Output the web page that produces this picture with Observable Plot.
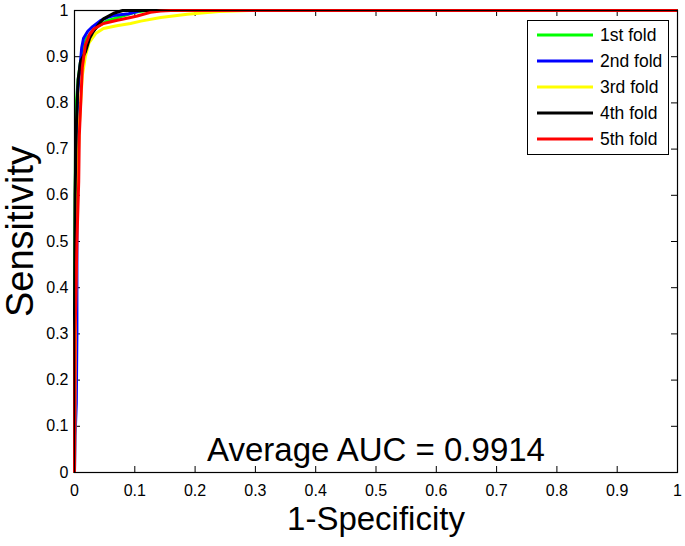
<!DOCTYPE html>
<html>
<head>
<meta charset="utf-8">
<script src="https://cdn.jsdelivr.net/npm/d3@7"></script>
<script src="https://cdn.jsdelivr.net/npm/@observablehq/plot@0.6"></script>
<style>
  html, body { margin: 0; padding: 0; background: #fff; }
  #wrap { position: relative; width: 685px; height: 546px; font-family: "Liberation Sans", Arial, Helvetica, sans-serif; }
  #legend { position: absolute; left: 527px; top: 20px; width: 142px; height: 135px; border: 1px solid #000; background: #fff; box-sizing: border-box; }
  .item { position: absolute; left: 0; height: 26px; display: flex; align-items: center; }
  .item svg { margin-left: 9px; }
  .item span { margin-left: 7px; font-size: 17.5px; color: #000; }
</style>
</head>
<body>
<div id="wrap"></div>
<script>
// ROC curves per fold: [1-specificity, sensitivity]
const fold1 = [[0,0],[0,0.4],[0.001,0.6],[0.002,0.75],[0.003,0.8],[0.006,0.85],[0.01,0.89],[0.015,0.92],[0.02,0.94],[0.03,0.955],[0.04,0.967],[0.055,0.978],[0.07,0.984],[0.085,0.99],[0.1,0.996],[0.12,1],[1,1]];
const fold2 = [[0,0],[0.001,0.08],[0.003,0.15],[0.004,0.3],[0.004,0.5],[0.004,0.7],[0.005,0.82],[0.008,0.86],[0.012,0.92],[0.015,0.94],[0.022,0.955],[0.03,0.965],[0.043,0.978],[0.055,0.985],[0.065,0.989],[0.09,0.993],[0.11,1],[1,1]];
const fold3 = [[0,0],[0.002,0.4],[0.004,0.6],[0.008,0.75],[0.013,0.86],[0.018,0.9],[0.024,0.93],[0.035,0.95],[0.048,0.961],[0.07,0.967],[0.093,0.972],[0.11,0.977],[0.143,0.985],[0.187,0.992],[0.24,0.998],[0.29,1],[1,1]];
const fold4 = [[0,0],[0,0.34],[0.001,0.6],[0.003,0.75],[0.006,0.85],[0.01,0.89],[0.018,0.91],[0.025,0.94],[0.03,0.952],[0.04,0.97],[0.048,0.982],[0.065,0.994],[0.08,1],[1,1]];
const fold5 = [[0,0],[0.001,0.3],[0.004,0.5],[0.007,0.63],[0.008,0.73],[0.013,0.877],[0.018,0.925],[0.025,0.948],[0.032,0.96],[0.048,0.972],[0.071,0.979],[0.093,0.985],[0.104,0.988],[0.126,0.996],[0.143,0.999],[0.16,1],[1,1]];

const foldNames = ["1st fold","2nd fold","3rd fold","4th fold","5th fold"];
const foldColors = ["#00ff00","#0000ff","#ffff00","#000000","#ff0000"];
const folds = [fold1, fold2, fold3, fold4, fold5];

const xTicks = [0,0.1,0.2,0.3,0.4,0.5,0.6,0.7,0.8,0.9,1];
const xTickLabels = ["0","0.1","0.2","0.3","0.4","0.5","0.6","0.7","0.8","0.9","1"];
const yTicks = [0,0.1,0.2,0.3,0.4,0.5,0.6,0.7,0.8,0.9,1];
const yTickLabels = ["0","0.1","0.2","0.3","0.4","0.5","0.6","0.7","0.8","0.9","1"];

const xLabel = "1-Specificity";
const yLabel = "Sensitivity";
const aucText = "Average AUC = 0.9914";

const W = 685, H = 546;
const mL = 74, mR = 8, mT = 10, mB = 74;
const fw = W - mL - mR, fh = H - mT - mB;
const tk = 6;

const chart = Plot.plot({
  width: W, height: H,
  marginLeft: mL, marginRight: mR, marginTop: mT, marginBottom: mB,
  style: { fontFamily: '"Liberation Sans", Arial, Helvetica, sans-serif', background: "#fff", color: "#000" },
  x: { domain: [0, 1] },
  y: { domain: [0, 1] },
  marks: [
    Plot.axisX(xTicks, { tickSize: 0, tickPadding: 12, fontSize: 16, tickFormat: (d, i) => xTickLabels[i], label: null }),
    Plot.axisY(yTicks, { tickSize: 0, tickPadding: 6, fontSize: 16, tickFormat: (d, i) => yTickLabels[i], label: null }),
    // inward ticks on all four sides
    Plot.tickX(xTicks, { x: d => d, insetTop: fh - tk, stroke: "#000", strokeWidth: 1 }),
    Plot.tickX(xTicks, { x: d => d, insetBottom: fh - tk, stroke: "#000", strokeWidth: 1 }),
    Plot.tickY(yTicks, { y: d => d, insetRight: fw - tk, stroke: "#000", strokeWidth: 1 }),
    Plot.tickY(yTicks, { y: d => d, insetLeft: fw - tk, stroke: "#000", strokeWidth: 1 }),
    ...folds.map((f, i) => Plot.line(f, { x: d => d[0], y: d => d[1], stroke: foldColors[i], strokeWidth: 3, strokeLinejoin: "round", strokeLinecap: "butt" })),
    Plot.frame({ stroke: "#000", strokeWidth: 1.2 }),
    Plot.text([aucText], { text: d => d, frameAnchor: "bottom", lineAnchor: "bottom", dy: -12, fontSize: 33, fill: "#000" }),
    Plot.text([xLabel], { text: d => d, frameAnchor: "bottom", lineAnchor: "bottom", dy: 57, fontSize: 33, fill: "#000" }),
    Plot.text([yLabel], { text: d => d, frameAnchor: "left", textAnchor: "middle", lineAnchor: "bottom", rotate: -90, dx: -42, dy: -10, fontSize: 38, fill: "#000" })
  ]
});

const wrap = document.getElementById("wrap");
wrap.appendChild(chart);

const legend = document.createElement("div");
legend.id = "legend";
foldNames.forEach((name, i) => {
  const item = document.createElement("div");
  item.className = "item";
  item.style.top = (1 + i * 26) + "px";
  item.innerHTML = `<svg width="56" height="6"><line x1="0" y1="3" x2="56" y2="3" stroke="${foldColors[i]}" stroke-width="3"/></svg><span>${name}</span>`;
  legend.appendChild(item);
});
wrap.appendChild(legend);
</script>
</body>
</html>
